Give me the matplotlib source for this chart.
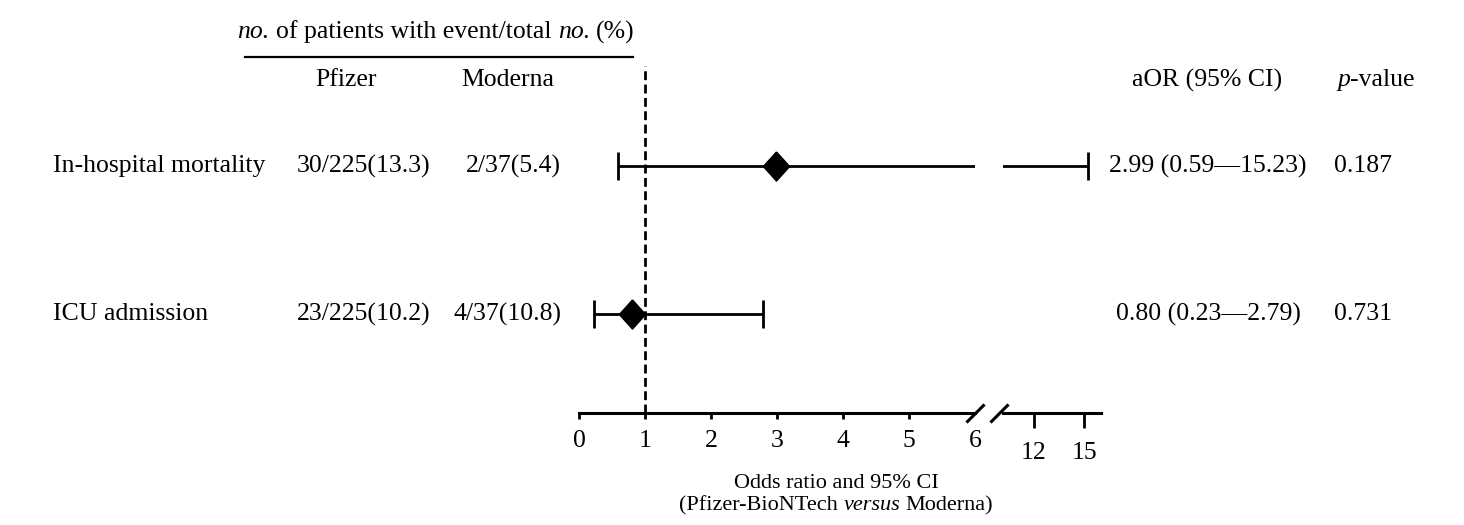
import numpy as np
import matplotlib
matplotlib.use("Agg")
import matplotlib.pyplot as plt
from matplotlib.lines import Line2D
from matplotlib.transforms import blended_transform_factory

plt.rcParams['font.family'] = ['Liberation Serif', 'DejaVu Serif']

# data
outcomes = ["In-hospital mortality", "ICU admission"]
pfizer = ["30/225(13.3)", "23/225(10.2)"]
moderna = ["2/37(5.4)", "4/37(10.8)"]
aor = np.array([2.99, 0.80])
ci_low = np.array([0.59, 0.23])
ci_high = np.array([15.23, 2.79])
pvals = ["0.187", "0.731"]
ticks_left = [0, 1, 2, 3, 4, 5, 6]
ticks_right = [12, 15]

W, H = 1464, 525
FS = 18.5

fig = plt.figure(figsize=(W / 100, H / 100), dpi=100)
renderer = fig.canvas.get_renderer()

def fx(px):
    return px / W

def fy(py):
    return 1 - py / H

def rich_text(xc, yp, pieces, fs):
    # pieces of (text, style, gap_before) laid out left to right, centred at xc
    space = 0.25 * fs * 100 / 72
    texts, widths = [], []
    for s, style, gap in pieces:
        t = fig.text(0, fy(yp), s, fontsize=fs, style=style, ha='left', va='center')
        texts.append(t)
        widths.append(t.get_window_extent(renderer).width + (space if gap else 0))
    x = xc - sum(widths) / 2
    for (s, style, gap), t, w in zip(pieces, texts, widths):
        t.set_x(fx(x + (space if gap else 0)))
        x += w

bottom = fy(413)
height = (413 - 66) / H
ax1 = fig.add_axes([fx(579), bottom, fx(975 - 579), height])
ax2 = fig.add_axes([fx(1003), bottom, fx(1101 - 1003), height])

ypos = np.array([2, 1])
diamond = [(0, 1), (0.9, 0), (0, -1), (-0.9, 0), (0, 1)]

for ax in (ax1, ax2):
    ax.errorbar(aor, ypos, xerr=[aor - ci_low, ci_high - aor], fmt='none',
                ecolor='black', elinewidth=2, capsize=10, capthick=2)
    ax.plot(aor, ypos, linestyle='none', marker=diamond, markersize=21,
            color='black', zorder=3)
    ax.set_ylim(0.331, 2.676)
    ax.set_yticks([])
    for s in ['top', 'left', 'right']:
        ax.spines[s].set_visible(False)
    ax.spines['bottom'].set_linewidth(2.2)
    ax.patch.set_visible(False)

ax1.axvline(1, color='black', linestyle=(0, (3.2, 1.6)), linewidth=2, zorder=1)
ax1.set_xlim(0, 6)
ax1.set_xticks(ticks_left)
ax1.set_xticklabels([str(t) for t in ticks_left], fontsize=FS)
ax1.tick_params(axis='x', length=4, width=2, pad=8)
ax1.xaxis.get_major_ticks()[-1].tick1line.set_visible(False)

ax2.set_xlim(10.14, 16.02)
ax2.set_xticks(ticks_right)
ax2.set_xticklabels([str(t) for t in ticks_right], fontsize=FS)
ax2.tick_params(axis='x', length=11, width=2, pad=10)

# break marks
brk = dict(marker=[(-1, -1), (1, 1)], markersize=13, linestyle='none',
           color='black', mec='black', mew=2.2, clip_on=False)
ax1.plot([1], [0], transform=ax1.transAxes, **brk)
ax2.plot([-0.04], [0], transform=ax2.transAxes, **brk)

# table text
rows = blended_transform_factory(fig.transFigure, ax1.transData)
for i in range(len(outcomes)):
    y = ypos[i]
    fig.text(fx(53), y, outcomes[i], transform=rows, fontsize=FS,
             ha='left', va='center')
    fig.text(fx(364), y, pfizer[i], transform=rows, fontsize=FS,
             ha='center', va='center')
    fig.text(fx(561), y, moderna[i], transform=rows, fontsize=FS,
             ha='right', va='center')
    fig.text(fx(1208), y, f"{aor[i]:.2f} ({ci_low[i]:.2f}\u2014{ci_high[i]:.2f})",
             transform=rows, fontsize=FS, ha='center', va='center')
    fig.text(fx(1363), y, pvals[i], transform=rows, fontsize=FS,
             ha='center', va='center')

rich_text(436, 32, [("no.", 'italic', False),
                    ("of patients with event/total", 'normal', True),
                    ("no.", 'italic', True),
                    ("(%)", 'normal', True)], FS)
fig.add_artist(Line2D([fx(245), fx(633)], [fy(57), fy(57)], color='black',
                      linewidth=1.6, transform=fig.transFigure))
fig.text(fx(346), fy(80), "Pfizer", fontsize=FS, ha='center', va='center')
fig.text(fx(508), fy(80), "Moderna", fontsize=FS, ha='center', va='center')
fig.text(fx(1207), fy(80), "aOR (95% CI)", fontsize=FS, ha='center', va='center')
rich_text(1376, 80, [("p", 'italic', False), ("-value", 'normal', False)], FS)

fig.text(fx(836), fy(484), "Odds ratio and 95% CI", fontsize=16,
         ha='center', va='center')
rich_text(836, 506, [("(Pfizer-BioNTech", 'normal', False),
                     ("versus", 'italic', True),
                     ("Moderna)", 'normal', True)], 16)

fig.savefig("out.png", dpi=100, facecolor='white')
